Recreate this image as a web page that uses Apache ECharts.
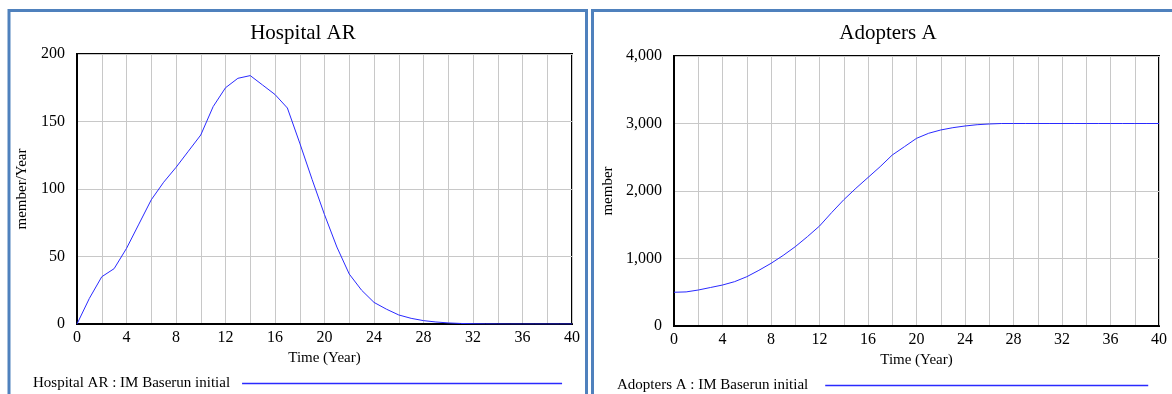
<!DOCTYPE html>
<html>
<head>
<meta charset="utf-8">
<script src="https://cdn.jsdelivr.net/npm/echarts@6/dist/echarts.min.js"></script>
<style>
html,body{margin:0;padding:0;background:#fff;}
#main{width:1172px;height:394px;}
</style>
</head>
<body>
<div id="main"></div>
<script>
// ---- data ----
var years = [0,1,2,3,4,5,6,7,8,9,10,11,12,13,14,15,16,17,18,19,20,21,22,23,24,25,26,27,28,29,30,31,32,33,34,35,36,37,38,39,40];
var hospitalAR = [0,19,35,41,56,74,92,105,116,128,140,161,175,182,184,177,170,160,134,107,81,57,37,25,16,11,6.7,4.2,2.5,1.5,0.8,0.4,0.2,0.1,0.05,0,0,0,0,0,0];
var adoptersA = [500,505,533,570,607,657,730,825,928,1045,1175,1323,1481,1680,1870,2040,2200,2360,2533,2656,2780,2855,2904,2938,2963,2982,2993,3000,3000,3000,3000,3000,3000,3000,3000,3000,3000,3000,3000,3000,3000];
var titles = ['Hospital AR', 'Adopters A'];
var seriesNames = ['Hospital AR : IM Baserun initial', 'Adopters A : IM Baserun initial'];
var yNames = ['member/Year', 'member'];
var xName = 'Time (Year)';

var FONT = '"Liberation Serif", "DejaVu Serif", serif';
var LINE = '#2a2aff';
var GRIDC = '#c8c8c8';

function pairs(xs, ys){ return xs.map(function(x,i){ return [x, ys[i]]; }); }

function xAxisCfg(idx, nameGap){
  return {
    type:'value', gridIndex: idx, min:0, max:40, interval:4,
    name: xName, nameLocation:'middle', nameGap: nameGap,
    nameTextStyle:{fontFamily:FONT, fontSize:15, color:'#000'},
    axisLine:{show:true, lineStyle:{color:'#000', width:2}},
    axisTick:{show:false},
    axisLabel:{fontFamily:FONT, fontSize:16, color:'#000', margin:6},
    splitLine:{show:true, lineStyle:{color:GRIDC, width:1}},
    minorTick:{show:false, splitNumber:2},
    minorSplitLine:{show:true, lineStyle:{color:GRIDC, width:1}}
  };
}
function yAxisCfg(idx, max, interval, name, nameGap, fmt){
  return {
    type:'value', gridIndex: idx, min:0, max:max, interval:interval,
    name: name, nameLocation:'middle', nameGap: nameGap, nameRotate:90,
    nameTextStyle:{fontFamily:FONT, fontSize:15, color:'#000'},
    axisLine:{show:true, lineStyle:{color:'#000', width:2}},
    axisTick:{show:false},
    axisLabel:{fontFamily:FONT, fontSize:16, color:'#000', margin:12, formatter: fmt},
    splitLine:{show:true, lineStyle:{color:GRIDC, width:1}}
  };
}

var chart = echarts.init(document.getElementById('main'), null, {renderer:'canvas'});
chart.setOption({
  backgroundColor:'#fff',
  animation:false,
  title:[
    {text: titles[0], left:303, top:23, padding:0, textAlign:'center', textStyle:{fontFamily:FONT, fontSize:21, fontWeight:'normal', color:'#000'}},
    {text: titles[1], left:888, top:23, padding:0, textAlign:'center', textStyle:{fontFamily:FONT, fontSize:21, fontWeight:'normal', color:'#000'}}
  ],
  grid:[
    {left:77, top:54, width:495, height:270, show:true, borderColor:'#000', borderWidth:2, backgroundColor:'#fff'},
    {left:674, top:56, width:485, height:270, show:true, borderColor:'#000', borderWidth:2, backgroundColor:'#fff'}
  ],
  xAxis:[ xAxisCfg(0, 24), xAxisCfg(1, 24) ],
  yAxis:[
    yAxisCfg(0, 200, 50, yNames[0], 47, function(v){ return String(v); }),
    yAxisCfg(1, 4000, 1000, yNames[1], 58, function(v){ return v.toLocaleString('en-US'); })
  ],
  legend:[
    {data:[seriesNames[0]], left:33, top:376, padding:0, align:'right', icon:'rect', itemWidth:320, itemHeight:1.5,
     textStyle:{fontFamily:FONT, fontSize:15, color:'#000', padding:[0,7,0,0]}},
    {data:[seriesNames[1]], left:617, top:378, padding:0, align:'right', icon:'rect', itemWidth:323, itemHeight:1.5,
     textStyle:{fontFamily:FONT, fontSize:15, color:'#000', padding:[0,12,0,0]}}
  ],
  series:[
    {name: seriesNames[0], type:'line', xAxisIndex:0, yAxisIndex:0, data: pairs(years, hospitalAR),
     showSymbol:false, symbol:'none', lineStyle:{color:LINE, width:1}, itemStyle:{color:LINE}},
    {name: seriesNames[1], type:'line', xAxisIndex:1, yAxisIndex:1, data: pairs(years, adoptersA),
     showSymbol:false, symbol:'none', lineStyle:{color:LINE, width:1}, itemStyle:{color:LINE}}
  ],
  graphic:[
    {type:'rect', shape:{x:9, y:10.5, width:577.5, height:400}, style:{fill:null, stroke:'#4f81bd', lineWidth:3}, silent:true, z:-1},
    {type:'rect', shape:{x:592.5, y:10.5, width:600, height:400}, style:{fill:null, stroke:'#4f81bd', lineWidth:3}, silent:true, z:-1}
  ]
});
</script>
</body>
</html>
